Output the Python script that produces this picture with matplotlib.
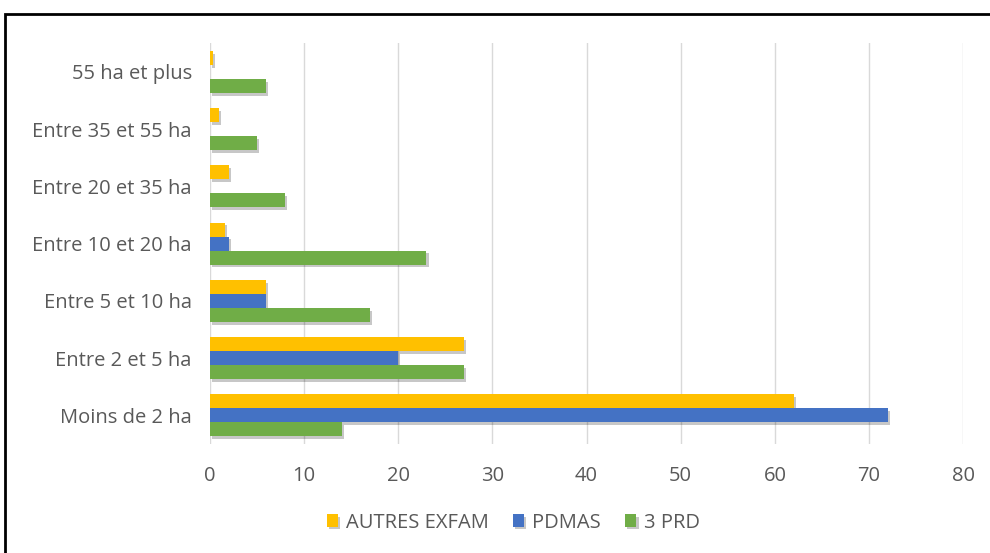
import matplotlib.pyplot as plt
import matplotlib.patheffects as pe
from matplotlib.patches import Rectangle
import numpy as np

plt.rcParams["font.family"] = ["Open Sans", "DejaVu Sans"]

categories = [
    "Moins de 2 ha",
    "Entre 2 et 5 ha",
    "Entre 5 et 10 ha",
    "Entre 10 et 20 ha",
    "Entre 20 et 35 ha",
    "Entre 35 et 55 ha",
    "55 ha et plus",
]
autres_exfam = [62, 27, 6, 1.6, 2, 1, 0.3]
pdmas = [72, 20, 6, 2, 0, 0, 0]
prd3 = [14, 27, 17, 23, 8, 5, 6]

series = [
    ("AUTRES EXFAM", autres_exfam, "#FFC000"),
    ("PDMAS", pdmas, "#4472C4"),
    ("3 PRD", prd3, "#70AD47"),
]

fig = plt.figure(figsize=(9.9, 5.53), dpi=100)
ax = fig.add_axes([0.212, 0.197, 0.761, 0.725])

y = np.arange(len(categories))
h = 0.245
offsets = [h, 0, -h]
shadow = [pe.SimplePatchShadow(offset=(1.5, -2), shadow_rgbFace="#000000", alpha=0.22), pe.Normal()]
for (name, vals, color), off in zip(series, offsets):
    bars = ax.barh(y + off, vals, height=h, color=color, label=name, zorder=3)
    for b in bars:
        b.set_path_effects(shadow)

ax.set_xlim(0, 80)
ax.set_ylim(-0.5, len(categories) - 0.5)
ax.set_xticks(range(0, 81, 10))
ax.set_yticks(y)
ax.set_yticklabels(categories)
ax.grid(axis="x", color="#D9D9D9", linewidth=1, zorder=0)
for s in ax.spines.values():
    s.set_visible(False)
ax.tick_params(length=0, labelsize=14.5, labelcolor="#595959")
ax.tick_params(axis="y", pad=13)
ax.tick_params(axis="x", pad=16)

ax.legend(loc="center", bbox_to_anchor=(0.519, 0.055), bbox_transform=fig.transFigure,
          ncol=3, frameon=False, fontsize=14.5, labelcolor="#595959",
          handlelength=0.55, handleheight=0.55, handletextpad=0.4, columnspacing=1.2)

fig.add_artist(Rectangle((0.005, -0.05), 1.2, 1.05 - 14 / 553, transform=fig.transFigure,
                         fill=False, edgecolor="black", linewidth=2))

fig.savefig("out.png", dpi=100)
